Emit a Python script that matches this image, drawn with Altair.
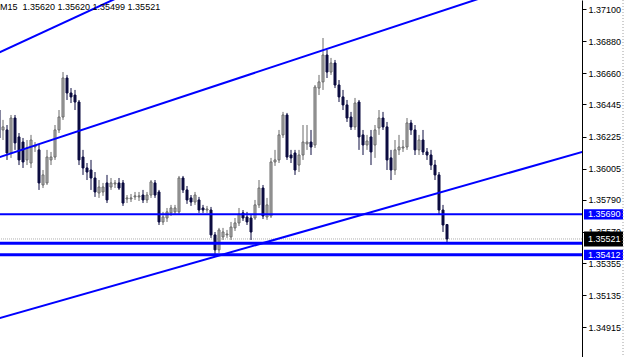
import altair as alt
import pandas as pd

# ---- data (EURUSD M15 candles, oldest -> newest) ----
opens = [1.36407, 1.36270, 1.36270, 1.36112, 1.36352, 1.36222, 1.36187, 1.36064, 1.36043, 1.36153,
         1.36133, 1.35892, 1.35906, 1.36064, 1.36084, 1.36270, 1.36359, 1.36627, 1.36524, 1.36510,
         1.36462, 1.36084, 1.36009, 1.35995, 1.35940, 1.35837, 1.35844, 1.35906, 1.35878, 1.35899,
         1.35906, 1.35906, 1.35796, 1.35796, 1.35810, 1.35810, 1.35823, 1.35789, 1.35823, 1.35906,
         1.35844, 1.35638, 1.35665, 1.35700, 1.35707, 1.35707, 1.35940, 1.35858, 1.35803, 1.35775,
         1.35789, 1.35734, 1.35720, 1.35720, 1.35549, 1.35446, 1.35535, 1.35549, 1.35535, 1.35597,
         1.35631, 1.35700, 1.35672, 1.35665, 1.35665, 1.35755, 1.35871, 1.35672, 1.35679, 1.36050,
         1.36064, 1.36236, 1.36373, 1.36098, 1.36112, 1.36029, 1.36098, 1.36174, 1.36187, 1.36167,
         1.36558, 1.36600, 1.36785, 1.36668, 1.36730, 1.36579, 1.36497, 1.36442, 1.36359, 1.36291,
         1.36462, 1.36236, 1.36167, 1.36222, 1.36167, 1.36284, 1.36352, 1.36291, 1.36078, 1.35995,
         1.36133, 1.36146, 1.36153, 1.36318, 1.36270, 1.36133, 1.36201, 1.36119, 1.36098, 1.36029,
         1.35961, 1.35720, 1.35620]

closes = [1.36215, 1.36291, 1.36112, 1.36352, 1.36181, 1.36064, 1.36050, 1.36146, 1.36201, 1.36160,
          1.35906, 1.35961, 1.36084, 1.36084, 1.36270, 1.36359, 1.36627, 1.36524, 1.36497, 1.36462,
          1.36064, 1.36009, 1.35981, 1.35940, 1.35844, 1.35878, 1.35878, 1.35789, 1.35906, 1.35906,
          1.35871, 1.35768, 1.35803, 1.35803, 1.35817, 1.35817, 1.35789, 1.35823, 1.35913, 1.35823,
          1.35638, 1.35672, 1.35707, 1.35734, 1.35734, 1.35940, 1.35858, 1.35789, 1.35775, 1.35823,
          1.35720, 1.35720, 1.35727, 1.35549, 1.35446, 1.35583, 1.35569, 1.35555, 1.35603, 1.35631,
          1.35693, 1.35665, 1.35638, 1.35569, 1.35755, 1.35871, 1.35679, 1.35755, 1.36050, 1.36064,
          1.36236, 1.36373, 1.36084, 1.36078, 1.35995, 1.36098, 1.36187, 1.36187, 1.36153, 1.36565,
          1.36600, 1.36785, 1.36668, 1.36730, 1.36579, 1.36497, 1.36442, 1.36352, 1.36291, 1.36455,
          1.36222, 1.36167, 1.36194, 1.36119, 1.36270, 1.36352, 1.36291, 1.36064, 1.35995, 1.36133,
          1.36153, 1.36153, 1.36318, 1.36270, 1.36133, 1.36201, 1.36119, 1.36098, 1.36029, 1.35961,
          1.35720, 1.35617, 1.35521]

highs = [1.36442, 1.36339, 1.36304, 1.36373, 1.36373, 1.36249, 1.36215, 1.36201, 1.36236, 1.36187,
         1.36167, 1.35995, 1.36133, 1.36119, 1.36304, 1.36407, 1.36668, 1.36648, 1.36558, 1.36545,
         1.36476, 1.36133, 1.36043, 1.36064, 1.35981, 1.35926, 1.35906, 1.35961, 1.35940, 1.35926,
         1.35940, 1.35926, 1.35823, 1.35830, 1.35844, 1.35844, 1.35858, 1.35844, 1.35926, 1.35926,
         1.35858, 1.35707, 1.35734, 1.35755, 1.35755, 1.35954, 1.35954, 1.35885, 1.35823, 1.35844,
         1.35810, 1.35755, 1.35748, 1.35741, 1.35569, 1.35597, 1.35597, 1.35583, 1.35638, 1.35665,
         1.35734, 1.35720, 1.35707, 1.35686, 1.35789, 1.35926, 1.35892, 1.35803, 1.36078, 1.36133,
         1.36270, 1.36394, 1.36387, 1.36133, 1.36133, 1.36133, 1.36304, 1.36304, 1.36270, 1.36579,
         1.36648, 1.36902, 1.36820, 1.36765, 1.36751, 1.36613, 1.36545, 1.36476, 1.36394, 1.36490,
         1.36476, 1.36270, 1.36236, 1.36270, 1.36304, 1.36407, 1.36394, 1.36325, 1.36133, 1.36201,
         1.36236, 1.36201, 1.36352, 1.36339, 1.36304, 1.36236, 1.36270, 1.36146, 1.36133, 1.36064,
         1.35981, 1.35755, 1.35620]

lows = [1.36187, 1.36201, 1.36064, 1.36078, 1.36133, 1.36029, 1.36009, 1.36029, 1.36009, 1.36119,
        1.35858, 1.35871, 1.35892, 1.36029, 1.36064, 1.36249, 1.36339, 1.36476, 1.36455, 1.36407,
        1.36029, 1.35961, 1.35926, 1.35858, 1.35810, 1.35803, 1.35817, 1.35768, 1.35858, 1.35871,
        1.35858, 1.35748, 1.35768, 1.35775, 1.35789, 1.35782, 1.35768, 1.35768, 1.35803, 1.35803,
        1.35617, 1.35617, 1.35638, 1.35679, 1.35686, 1.35693, 1.35837, 1.35762, 1.35748, 1.35755,
        1.35700, 1.35700, 1.35700, 1.35528, 1.35411, 1.35425, 1.35514, 1.35528, 1.35514, 1.35576,
        1.35610, 1.35645, 1.35617, 1.35514, 1.35652, 1.35734, 1.35658, 1.35652, 1.35665, 1.36023,
        1.36043, 1.36215, 1.36064, 1.36043, 1.35961, 1.35981, 1.36064, 1.36133, 1.36098, 1.36146,
        1.36510, 1.36545, 1.36627, 1.36648, 1.36558, 1.36462, 1.36407, 1.36325, 1.36270, 1.36270,
        1.36133, 1.36098, 1.36133, 1.36029, 1.36078, 1.36236, 1.36270, 1.35995, 1.35926, 1.35961,
        1.36098, 1.36119, 1.36133, 1.36236, 1.36098, 1.36098, 1.36098, 1.36064, 1.35995, 1.35926,
        1.35686, 1.35569, 1.35499]

tick_values = [1.37100, 1.36880, 1.36660, 1.36445, 1.36225, 1.36005, 1.35790,
               1.35570, 1.35355, 1.35135, 1.34915]

# trend lines: (bar index, price) anchor pairs
trend_ids = ["a", "a", "b", "b", "c", "c"]
trend_bars = [-2, 30, -2, 120, -2, 148]
trend_prices = [1.36776, 1.37183, 1.36064, 1.37172, 1.34960, 1.36136]

hline_prices = [1.35690, 1.35492, 1.35412]
hline_widths = [2, 3, 3]
bid_price = 1.35521

label_prices = [1.35690, 1.35521, 1.35412]
label_texts = ["1.35690", "1.35521", "1.35412"]
label_colors = ["#0000ff", "#000000", "#0000ff"]
label_half = [0.00035, 0.00052, 0.00035]

header = "M15\u00a0\u00a01.35620\u00a01.35620\u00a01.35499\u00a01.35521"

BULL_FILL = "#b4b4b4"
BULL_LINE = "#6a6a6a"
BEAR = "#0c0c40"
FONT = "Liberation Sans"
FS = 9

# ---- tables ----
df = pd.DataFrame({"bar": list(range(len(opens))), "open": opens, "high": highs,
                   "low": lows, "close": closes})
df["fill"] = [BULL_FILL if c >= o else BEAR for o, c in zip(opens, closes)]
df["line"] = [BULL_LINE if c >= o else BEAR for o, c in zip(opens, closes)]

trend_df = pd.DataFrame({"id": trend_ids, "bar": trend_bars, "price": trend_prices})
hl_df = pd.DataFrame({"price": hline_prices, "w": hline_widths})
bid_df = pd.DataFrame({"price": [bid_price]})
lab_df = pd.DataFrame({"price": label_prices, "text": label_texts,
                       "color": label_colors, "half": label_half})
hdr_df = pd.DataFrame({"t": [header]})

xs = alt.Scale(domain=[0.25, 145.75], nice=False, zero=False, padding=0)
ys = alt.Scale(domain=[1.34710, 1.37163], nice=False, zero=False, padding=0)

y_axis = alt.Axis(
    orient="right", values=tick_values, format=".5f", title=None, grid=False,
    labelFont=FONT, labelFontSize=FS, labelColor="#000000", tickColor="#000000",
    domainColor="#000000", tickSize=4, labelPadding=2, labelOverlap=False,
    labelFlush=False, zindex=0)

X = alt.X("bar:Q", scale=xs, axis=None)

bid = alt.Chart(bid_df).mark_rule(color="#b0b0b0", strokeWidth=1, strokeDash=[1, 1]).encode(
    y=alt.Y("price:Q", scale=ys, axis=y_axis)
)

wicks = alt.Chart(df).mark_rule(strokeWidth=1, clip=True).encode(
    x=X,
    y=alt.Y("low:Q", scale=ys, axis=y_axis),
    y2="high:Q",
    color=alt.Color("line:N", scale=None),
)

bodies = alt.Chart(df).mark_bar(size=2, strokeWidth=1, clip=True).encode(
    x=X,
    y=alt.Y("open:Q", scale=ys, axis=y_axis),
    y2="close:Q",
    fill=alt.Fill("fill:N", scale=None),
    stroke=alt.Stroke("line:N", scale=None),
)

hlines = alt.Chart(hl_df).mark_rule(color="#0000ff").encode(
    y=alt.Y("price:Q", scale=ys, axis=y_axis),
    strokeWidth=alt.StrokeWidth("w:Q", scale=None),
)

trends = alt.Chart(trend_df).mark_line(color="#0000ff", strokeWidth=2, clip=True).encode(
    x=alt.X("bar:Q", scale=xs, axis=None),
    y=alt.Y("price:Q", scale=ys, axis=y_axis),
    detail="id:N",
)

boxes = alt.Chart(lab_df).transform_calculate(
    lo="datum.price - datum.half", hi="datum.price + datum.half"
).mark_rect().encode(
    x=alt.value(584), x2=alt.value(623),
    y=alt.Y("lo:Q", scale=ys, axis=y_axis), y2="hi:Q",
    fill=alt.Fill("color:N", scale=None),
)

box_text = alt.Chart(lab_df).mark_text(
    font=FONT, fontSize=FS, color="#ffffff", align="left", baseline="middle"
).encode(
    x=alt.value(588),
    y=alt.Y("price:Q", scale=ys, axis=y_axis),
    text="text:N",
)

hdr = alt.Chart(hdr_df).mark_text(
    font=FONT, fontSize=FS, color="#000000", align="left", baseline="middle"
).encode(x=alt.value(0), y=alt.value(7), text="t:N")

border = alt.Chart(hdr_df).mark_rule(color="#a0a0a0", strokeDash=[1, 2]).encode(
    x=alt.value(623), y=alt.value(0), y2=alt.value(357)
)

chart = alt.layer(
    bid, wicks, bodies, hlines, trends, boxes, box_text, hdr, border
).properties(
    width=582, height=357,
    autosize=alt.AutoSizeParams(type="none"),
    padding={"left": 0, "top": 0, "right": 43, "bottom": 0},
    background="#ffffff",
).configure_view(stroke=None)

chart.save("out.html", embed_options={"renderer": "svg", "actions": False})
